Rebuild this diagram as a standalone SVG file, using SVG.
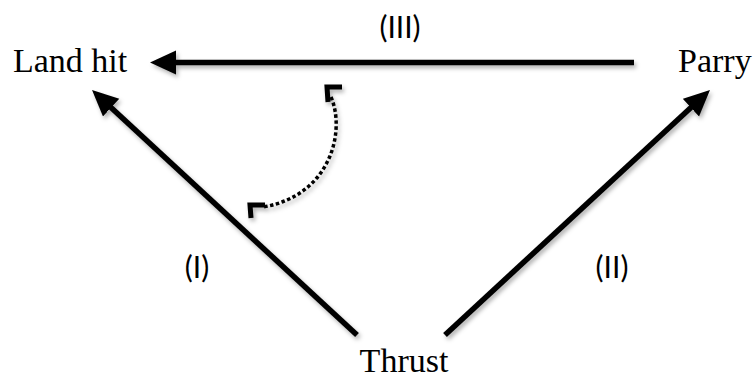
<svg xmlns="http://www.w3.org/2000/svg" width="756" height="381" viewBox="0 0 756 381">
<style>
.node{font-family:"Liberation Serif","Times New Roman",serif;font-size:34px;fill:#000}
.lbl{font-family:Lato,"Open Sans",sans-serif;font-size:30px;fill:#000;text-anchor:middle}
.main{stroke:#000;stroke-width:5.5;fill:none}
.dot{stroke:#000;stroke-width:3.5;fill:none;stroke-dasharray:3.5 2.5}
.head{stroke:#000;stroke-width:5;fill:none;stroke-linecap:butt;stroke-linejoin:miter}
</style>
<defs>
<filter id="sh" x="-20%" y="-20%" width="140%" height="140%">
<feDropShadow dx="2" dy="3" stdDeviation="2" flood-color="#000" flood-opacity="0.3"/>
</filter>
<marker id="ah" markerUnits="userSpaceOnUse" markerWidth="28" markerHeight="28" viewBox="0 0 28 28" refX="9" refY="12" orient="auto">
<path d="M0,0 L26,12 L0,24 z" fill="#000"/>
</marker>
</defs>
<rect width="756" height="381" fill="#fff"/>
<g id="connectors" filter="url(#sh)">
<line class="main" x1="634" y1="62.5" x2="167" y2="62.5" marker-end="url(#ah)"/>
<line class="main" x1="357" y1="335" x2="104.5" y2="101.5" marker-end="url(#ah)"/>
<line class="main" x1="445" y1="335" x2="697.5" y2="101.5" marker-end="url(#ah)"/>
<path class="dot" d="M331,97 C346,132 330,196 263,207"/>
<path class="head" d="M342,87 L327,87 L328,102"/>
<path class="head" d="M265,205 L250,205 L251,218"/>
</g>
<g id="node-landhit"><text class="node" x="13" y="72">Land hit</text></g>
<g id="node-parry"><text class="node" x="678" y="72">Parry</text></g>
<g id="node-thrust"><text class="node" x="404" y="372" text-anchor="middle">Thrust</text></g>
<g id="labels">
<text class="lbl" x="400" y="38">(III)</text>
<text class="lbl" x="197" y="278">(I)</text>
<text class="lbl" x="612" y="278">(II)</text>
</g>
</svg>
